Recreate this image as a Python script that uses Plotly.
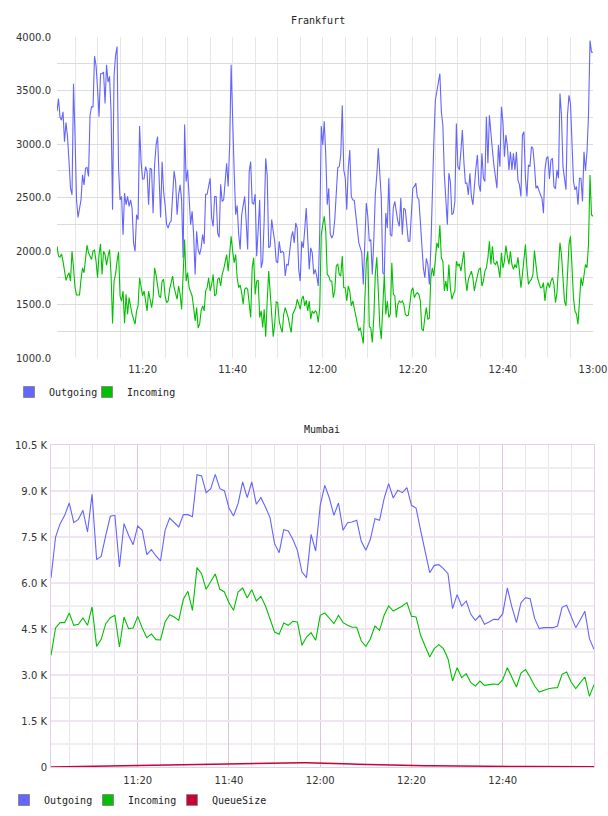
import pandas as pd
import plotly.graph_objects as go

# ---------------- Frankfurt (20 s samples starting 11:01:00) ----------------
fra_start = "2024-01-01 11:01:00"
fra_outgoing = [
    3306, 3424, 3254, 3222, 3300, 3021, 3201, 3068, 2835, 2587,
    2525, 3564, 3083, 2478, 2314, 2401, 2478, 2711, 2618, 2773,
    2782, 2696, 3269, 3347, 3347, 3821, 3734, 3517, 3254, 3657,
    3657, 3672, 3378, 3740, 3579, 3632, 3300, 2386, 3641, 3827,
    3911, 2773, 2478, 2510, 2153, 2541, 2432, 2510, 2417, 2478,
    2401, 2076, 1998, 2339, 2293, 3167, 2835, 2671, 2674, 2788,
    2742, 2432, 2773, 2764, 2354, 2804, 2990, 3068, 2680, 2314,
    2835, 2556, 2432, 2246, 2215, 2262, 2277, 2494, 2748, 2649,
    2339, 2525, 2618, 2478, 1936, 3182, 2649, 2758, 2525, 2246,
    2370, 2153, 1781, 2184, 2014, 1967, 2029, 2153, 2066, 2531,
    2531, 2603, 2680, 2308, 2231, 2510, 2510, 2169, 2128, 2624,
    2463, 2478, 2665, 2820, 2603, 2990,
    3740, 3083, 2742, 2339, 2426, 2153, 2014, 2339, 2432, 2510,
    2277, 2014, 2742, 2835, 2448, 2438, 2531, 1952, 2200, 2478,
    1843, 1905, 2293, 2866, 2711, 2029, 2045, 2293, 2184, 2091,
    1905, 1890, 2091, 1983, 1998, 1983, 1766, 1874, 1868, 1998,
    2122, 2184, 2076, 2262, 2215, 1828, 1719, 2091, 2029, 2200,
    2401, 2122, 1828, 2029, 1983, 1781, 1828, 1766, 1673, 2184,
    3167, 2990, 3213, 2897, 2432, 2587, 2159, 2122, 2153, 2293,
    2556, 2779, 2788, 2897, 3362, 2758, 2680, 2386, 2773, 2944,
    2510, 2478, 2472, 2339, 2153, 2076, 2029, 1983, 1688, 2029,
    2448, 2324, 2091, 2107, 1781, 2107, 2525, 2711, 2959, 2727,
    2494, 1797, 1781, 2355, 2215, 2680, 2153, 2138, 2401, 2463,
    2339, 2277, 2231, 2494, 2153, 2401, 2386, 2215, 2091, 2091,
    2401, 2587, 2603, 2634,
    2500, 2485, 2277, 2029, 1843, 1750, 1930, 1874, 1688, 2029,
    2649, 3021, 3409, 3486, 3564, 3657, 3300, 3176, 2711, 2401,
    2246, 2727, 2649, 2339, 2354, 2463, 3192, 2788, 2758, 2928,
    3130, 2835, 2634, 2634, 2525, 2727, 2510, 2432, 2649, 2773,
    2897, 2618, 2556, 2913, 2680, 2649, 3254, 2820, 3269, 3083,
    2944, 2804, 2711, 2587, 2990, 2788, 3347, 3207, 2882, 3083,
    2975, 2758, 2928, 2758, 2913, 2758, 2928, 2665, 2618, 2510,
    3083, 3114, 2680, 2510, 2804, 2788, 2975, 2959, 2804, 2587,
    2609, 2556, 2525, 2494, 2354, 2758, 2866, 2882, 2674, 2851,
    2866, 2603, 2581, 2758, 2680, 3471, 3269, 2788, 2649, 2572,
    3269, 3455, 3378, 3083, 2649, 2572, 2603, 2432, 2680, 2680,
    2463, 2928, 2748, 2928, 3269, 3967, 3858, 3858,
]
fra_incoming = [
    2045, 1952, 1942, 1973, 1905, 1812, 1725, 1766, 1797, 1719,
    1998, 1843, 1657, 1589, 1589, 1589, 1735, 1843, 1797, 1905,
    2054, 1983, 1952, 1921, 1998, 2007, 1905, 1750, 1967, 2066,
    1781, 1998, 1967, 1868, 1952, 2014, 1781, 1322, 1719, 1781,
    1905, 1992, 1580, 1533, 1626, 1325, 1595, 1409, 1564, 1471,
    1409, 1363, 1316, 1440, 1487, 1750, 1663, 1580, 1626, 1549,
    1440, 1626, 1549, 1471, 1564, 1843, 1775, 1673, 1580, 1564,
    1719, 1735, 1580, 1518, 1533, 1642, 1719, 1766, 1657, 1595,
    1549, 1673, 1595, 1456, 1843, 2107, 1719, 1797, 1657, 1611,
    1580, 1471, 1347, 1471, 1279, 1316, 1440, 1487, 1440, 1626,
    1657, 1750, 1626, 1688, 1781, 1580, 1595, 1735, 1750, 1673,
    1781, 1828, 1905, 1967, 1812, 1967,
    2138, 1998, 1890, 1967, 1750, 1657, 1682, 1611, 1502, 1642,
    1657, 1642, 1471, 1378, 1843, 1936, 1595, 1719, 1728, 1378,
    1440, 1285, 1456, 1198, 1533, 1812, 1611, 1440, 1198, 1316,
    1524, 1518, 1347, 1285, 1239, 1409, 1471, 1425, 1378, 1301,
    1239, 1409, 1440, 1471, 1549, 1502, 1456, 1549, 1580, 1487,
    1539, 1440, 1533, 1363, 1440, 1415, 1440, 1425, 1332, 1471,
    2153, 2246, 2324, 2184, 1781, 1766, 1719, 1719, 1564, 1626,
    1859, 1880, 1781, 1766, 1952, 1657, 1657, 1533, 1673, 1626,
    1487, 1533, 1471, 1394, 1316, 1254, 1285, 1208, 1136, 1533,
    1890, 1998, 1291, 1285, 1146, 1378, 1781, 1942, 1595, 1301,
    1177, 1533, 1781, 1409, 1533, 1378, 1409, 1890, 1595, 1580,
    1378, 1502, 1533, 1518, 1533, 1502, 1409, 1394, 1400, 1502,
    1626, 1657, 1564, 1595,
    1611, 1595, 1533, 1270, 1254, 1378, 1471, 1363, 1372, 1750,
    1843, 1766, 1967, 2076, 2029, 2240, 1936, 1905, 1626, 1719,
    1626, 1874, 1657, 1549, 1595, 1626, 1905, 1859, 1880, 1812,
    1905, 1998, 1750, 1626, 1735, 1781, 1812, 1750, 1626, 1704,
    1766, 1828, 1843, 1673, 1719, 1812, 1843, 1936, 2091, 1874,
    2045, 1890, 1874, 1905, 1843, 1750, 1983, 1843, 1905,
    2051, 1952, 1874, 1998, 1874, 1828, 1874, 1843, 1942, 1812,
    1657, 1781, 1936, 2060, 1843, 1688, 1719, 1735, 1781, 2004,
    1874, 1750, 1704, 1657, 1657, 1704, 1533, 1657, 1704,
    1657, 1719, 1750, 1688, 1518, 1611, 1843, 2076, 1967,
    1781, 1533, 1487, 1781, 2060, 2138, 1874, 1564, 1440, 1409,
    1316, 1595, 1750, 1673, 1797, 1874, 1843, 2060, 2711, 2339,
    2324,
]

# ---------------- Mumbai (1 min samples starting 11:01) ----------------
mum_start = "2024-01-01 11:01:00"
mum_outgoing = [
    6163, 7500, 7935, 8207, 8609, 7968, 8076, 8370, 7663, 8892,
    6761, 6870, 7555, 8174, 8207, 6522, 7935, 7555, 7250, 7859,
    7718, 6924, 7087, 6881, 6718, 7718, 8120, 7968, 7826, 8228,
    8228, 8163, 9533, 9490, 8946, 9076, 9544, 9076, 9011, 8446,
    8185, 8587, 9294, 8783, 9294, 8566, 8783, 8479, 8131, 7283,
    6989, 7739, 7696, 7424, 7066, 6359, 6174, 7587, 7044, 8533,
    9185, 8772, 8207, 8609, 7718, 7968, 7989, 8044, 7359, 7066,
    7424, 8098, 8044, 8750, 9240, 8772, 9022, 8946, 9109, 8533,
    8446, 7718, 7011, 6337, 6576, 6598, 6468, 6305, 5163, 5620,
    5250, 5413, 4978, 4783, 4946, 4652, 4728, 4815, 4805, 5000,
    5837, 5218, 4707, 5359, 5522, 5489, 4837, 4511, 4544, 4533,
    4544, 4598, 5207, 5272, 4892, 4544, 4805, 5076, 4185, 3837,
]
mum_incoming = [
    3641, 4533, 4707, 4707, 5022, 4620, 4652, 4859, 4620, 5218,
    3935, 4163, 4674, 4870, 4946, 3913, 4892, 4511, 4533, 4913,
    4533, 4218, 4337, 4152, 4141, 4728, 4968, 4892, 4783, 5468,
    5728, 5109, 6500, 6305, 5794, 6033, 6294, 5794, 5707, 5359,
    5109, 5707, 5837, 5511, 5783, 5413, 5565, 5250, 4837, 4402,
    4326, 4696, 4620, 4750, 4728, 3968, 4239, 4381, 4131, 4946,
    5022, 4837, 4674, 4946, 4707, 4620, 4555, 4555, 4109, 3935,
    4185, 4598, 4457, 4946, 5250, 5087, 5163, 5250, 5359, 4913,
    4892, 4294, 3935, 3587, 3859, 3989, 3859, 3533, 2804, 3239,
    2913, 3044, 2750, 2641, 2804, 2663, 2685, 2707, 2685, 2848,
    3239, 2913, 2609, 3065, 3174, 2924, 2641, 2446, 2500, 2554,
    2576, 2587, 3022, 3098, 2772, 2554, 2750, 2935, 2304, 2685,
]
mum_queue = [
    0, 3, 6, 9, 12, 15, 18, 21, 24, 27,
    30, 33, 36, 39, 42, 45, 48, 51, 54, 57,
    60, 63, 66, 69, 72, 75, 78, 81, 84, 87,
    90, 93, 96, 99, 102, 104, 106, 108, 110, 112,
    114, 116, 118, 120, 122, 124, 126, 128, 130, 132,
    134, 136, 138, 139, 140, 140, 139, 137, 134, 130,
    126, 121, 116, 111, 106, 101, 96, 91, 86, 81,
    77, 73, 69, 65, 61, 58, 55, 52, 49, 47,
    45, 43, 41, 39, 37, 35, 33, 31, 29, 28,
    27, 26, 25, 24, 23, 22, 21, 20, 19, 18,
    17, 16, 16, 15, 15, 14, 14, 13, 13, 12,
    12, 11, 11, 10, 10, 9, 9, 8, 8, 7,
]

fra_y_ticks = [1000, 1500, 2000, 2500, 3000, 3500, 4000]
mum_y_ticks = [0, 1500, 3000, 4500, 6000, 7500, 9000, 10500]

BLUE = "#6464ff"
GREEN = "#00c000"
RED = "#cc0033"

fra_t = pd.date_range(fra_start, periods=len(fra_outgoing), freq="20s")
mum_t = pd.date_range(mum_start, periods=len(mum_outgoing), freq="60s")

W, H = 608, 816
SANS = "DejaVu Sans"
MONO = "DejaVu Sans Mono"

fig = go.Figure()

# Frankfurt lines
fig.add_trace(go.Scatter(x=fra_t, y=fra_outgoing, mode="lines", line=dict(color=BLUE, width=1.1),
                         xaxis="x", yaxis="y", showlegend=False, hoverinfo="skip"))
fig.add_trace(go.Scatter(x=fra_t, y=fra_incoming, mode="lines", line=dict(color=GREEN, width=1.1),
                         xaxis="x", yaxis="y", showlegend=False, hoverinfo="skip"))
# Mumbai lines
fig.add_trace(go.Scatter(x=mum_t, y=mum_outgoing, mode="lines", line=dict(color=BLUE, width=1.1),
                         xaxis="x2", yaxis="y2", showlegend=False, hoverinfo="skip"))
fig.add_trace(go.Scatter(x=mum_t, y=mum_incoming, mode="lines", line=dict(color=GREEN, width=1.1),
                         xaxis="x2", yaxis="y2", showlegend=False, hoverinfo="skip"))
fig.add_trace(go.Scatter(x=mum_t, y=mum_queue, mode="lines", line=dict(color=RED, width=1.5),
                         xaxis="x2", yaxis="y2", showlegend=False, hoverinfo="skip"))

# legend entries (square swatches)
def swatch(name, color, legend, xa, ya, visible_marker=True):
    return go.Scatter(x=[None], y=[None], mode="markers", name=name, legend=legend,
                      xaxis=xa, yaxis=ya, opacity=1 if visible_marker else 0,
                      marker=dict(symbol="square", size=11, color=color,
                                  line=dict(color="#8a8a8a", width=1)))

fig.add_trace(swatch("Outgoing", BLUE, "legend", "x", "y"))
fig.add_trace(swatch("Incoming", GREEN, "legend", "x", "y"))
fig.add_trace(swatch(" ", "white", "legend", "x", "y", visible_marker=False))
fig.add_trace(swatch("Outgoing", BLUE, "legend2", "x2", "y2"))
fig.add_trace(swatch("Incoming", GREEN, "legend2", "x2", "y2"))
fig.add_trace(swatch("QueueSize", RED, "legend2", "x2", "y2"))
fig.add_trace(swatch(" ", "white", "legend2", "x2", "y2", visible_marker=False))

tickfont = dict(family=SANS, size=10, color="#333333")

def py(px):
    return 1 - px / H

fig.update_layout(
    width=W, height=H,
    margin=dict(l=0, r=0, t=0, b=0, autoexpand=False),
    paper_bgcolor="white", plot_bgcolor="white",
    showlegend=True,
    xaxis=dict(
        domain=[57 / W, 593 / W], anchor="y", type="date", automargin=False,
        tickformat="%H:%M", dtick=20 * 60 * 1000, tick0="2024-01-01 11:00",
        showgrid=True, gridcolor="#e6e6e6", gridwidth=1,
        minor=dict(dtick=5 * 60 * 1000, showgrid=True, gridcolor="#e6e6e6", gridwidth=1),
        zeroline=False, showline=False, ticks="", tickfont=tickfont, ticklabelstandoff=4,
    ),
    yaxis=dict(
        domain=[py(358), py(37)], anchor="x", automargin=False,
        range=[fra_y_ticks[0], fra_y_ticks[-1]],
        tickvals=fra_y_ticks, ticktext=[f"{v:.1f}" for v in fra_y_ticks],
        showgrid=False,
        minor=dict(dtick=250, tick0=1000, showgrid=True, gridcolor="#dcdcdc", gridwidth=1),
        zeroline=False, showline=False, ticks="", tickfont=tickfont, ticklabelstandoff=5,
    ),
    xaxis2=dict(
        domain=[51 / W, 594 / W], anchor="y2", type="date", automargin=False,
        tickformat="%H:%M", dtick=20 * 60 * 1000, tick0="2024-01-01 11:00",
        showgrid=True, gridcolor="#dcc6dc", gridwidth=1,
        minor=dict(dtick=5 * 60 * 1000, showgrid=True, gridcolor="#ebe5eb", gridwidth=1),
        zeroline=False, showline=True, mirror=True, linecolor="#e4cfe6", linewidth=1,
        ticks="", tickfont=tickfont, ticklabelstandoff=4,
    ),
    yaxis2=dict(
        domain=[py(767), py(445)], anchor="x2", automargin=False,
        range=[mum_y_ticks[0], mum_y_ticks[-1]],
        tickvals=mum_y_ticks,
        ticktext=["0" if v == 0 else f"{v / 1000:.1f} K" for v in mum_y_ticks],
        showgrid=True, gridcolor="#f1e3f1", gridwidth=2,
        minor=dict(dtick=750, tick0=0, showgrid=True, gridcolor="#f0eef0", gridwidth=2),
        zeroline=False, showline=True, mirror=True, linecolor="#e4cfe6", linewidth=1,
        ticks="", tickfont=tickfont, ticklabelstandoff=1,
    ),
    legend=dict(
        orientation="h", x=9 / W, y=py(392), xanchor="left", yanchor="middle",
        font=dict(family=MONO, size=10, color="#222222"), bgcolor="rgba(0,0,0,0)",
        itemclick=False, itemdoubleclick=False, entrywidth=33, entrywidthmode="pixels",
    ),
    legend2=dict(
        orientation="h", x=4 / W, y=py(800), xanchor="left", yanchor="middle",
        font=dict(family=MONO, size=10, color="#222222"), bgcolor="rgba(0,0,0,0)",
        itemclick=False, itemdoubleclick=False, entrywidth=39, entrywidthmode="pixels",
    ),
    annotations=[
        dict(text="Frankfurt", x=318 / W, y=py(20), xref="paper", yref="paper",
             showarrow=False, xanchor="center", yanchor="middle",
             font=dict(family=MONO, size=10, color="#222222")),
        dict(text="Mumbai", x=322 / W, y=py(429), xref="paper", yref="paper",
             showarrow=False, xanchor="center", yanchor="middle",
             font=dict(family=MONO, size=10, color="#222222")),
    ],
)

fig.write_html("out.html")
